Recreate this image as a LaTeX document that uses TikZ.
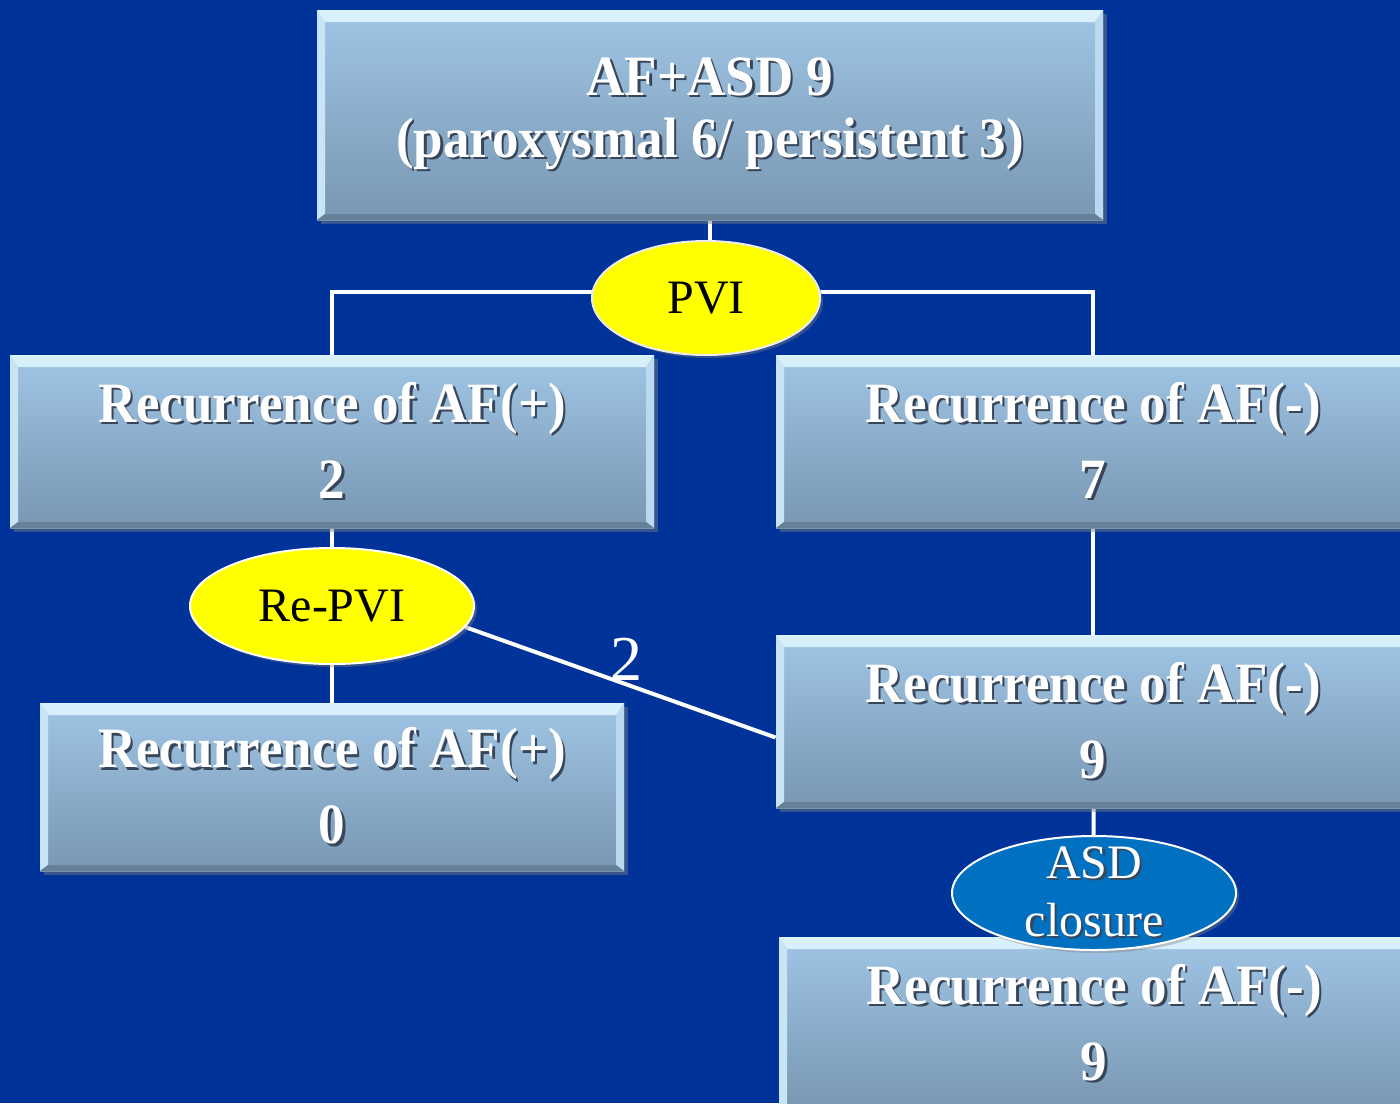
\documentclass[tikz,border=0pt]{standalone}
\usepackage{fontspec}
\setmainfont{Liberation Serif}
\newfontfamily\narrowfont[FakeStretch=0.93]{Liberation Serif}
\usetikzlibrary{positioning}
\usetikzlibrary{shapes.geometric}
\usetikzlibrary{shadows}
\definecolor{slidebg}{RGB}{0,51,153}
\definecolor{boxtop}{RGB}{160,197,229}
\definecolor{boxbottom}{RGB}{120,151,178}
\definecolor{boxbevel}{RGB}{218,242,252}
\definecolor{txtshadow}{RGB}{55,70,90}
\definecolor{asdblue}{RGB}{0,112,192}
\definecolor{pviyellow}{RGB}{255,255,0}
\newcommand{\shadowed}[1]{\leavevmode\rlap{\kern1.2pt\raisebox{-1.2pt}{\textcolor{txtshadow}{#1}}}#1}
\pgfdeclarelayer{backdrop}
\pgfdeclarelayer{links}
\pgfsetlayers{backdrop,links,main}

\begin{document}
\begin{tikzpicture}[
        x=0.5pt, y=-0.5pt,
        line width=1.5pt,
        result/.style={rectangle, inner sep=0pt, minimum height=86.5pt,
          top color=boxtop, bottom color=boxbottom, text=white, align=center,
          font=\narrowfont\bfseries\fontsize{28.5}{38}\selectfont,
          drop shadow={shadow xshift=2pt, shadow yshift=-2pt, opacity=0.45},
          path picture={
            \shade[top color=boxbevel, bottom color=boxtop]
              (path picture bounding box.north west) -- (path picture bounding box.north east)
              -- ([shift={(-4pt,-6pt)}]path picture bounding box.north east)
              -- ([shift={(4pt,-6pt)}]path picture bounding box.north west) -- cycle;
            \fill[boxbevel!70!boxtop]
              (path picture bounding box.north west) -- ([shift={(4pt,-6pt)}]path picture bounding box.north west)
              -- ([shift={(4pt,3pt)}]path picture bounding box.south west) -- (path picture bounding box.south west) -- cycle;
            \fill[boxbevel!45!boxtop]
              (path picture bounding box.north east) -- ([shift={(-4pt,-6pt)}]path picture bounding box.north east)
              -- ([shift={(-4pt,3pt)}]path picture bounding box.south east) -- (path picture bounding box.south east) -- cycle;
            \fill[boxbottom!85!black]
              (path picture bounding box.south west) -- ([shift={(4pt,3pt)}]path picture bounding box.south west)
              -- ([shift={(-4pt,3pt)}]path picture bounding box.south east) -- (path picture bounding box.south east) -- cycle;
          }},
        treat/.style={ellipse, draw=white!85!gray, line width=1pt, fill=pviyellow,
          inner sep=0pt, align=center, font=\fontsize{24}{29}\selectfont,
          drop shadow={shadow xshift=1.5pt, shadow yshift=-1.5pt, opacity=0.4}},
        link/.style={draw=white, line width=2pt}
      ]
  \useasboundingbox (0,0) rectangle (1400,1103);
  \begin{pgfonlayer}{backdrop}
    \fill[slidebg] (0,0) rectangle (1400,1103);
  \end{pgfonlayer}

  \node[result, minimum width=393pt, minimum height=105pt,
    font=\narrowfont\bfseries\fontsize{28.5}{31}\selectfont] (all) at (710,115)
    {\shadowed{AF+ASD 9}\\\shadowed{(paroxysmal 6/ persistent 3)}};
  \node[result, minimum width=322pt] (pvipos) at (332,441.5)
    {\shadowed{Recurrence of AF(+)}\\\shadowed{2}};
  \node[result, minimum width=317pt] (pvineg) at (1093,441.5)
    {\shadowed{Recurrence of AF(-)}\\\shadowed{7}};
  \node[result, minimum width=292pt, minimum height=84pt] (repvipos) at (332,787)
    {\shadowed{Recurrence of AF(+)}\\\shadowed{0}};
  \node[result, minimum width=317pt] (repvineg) at (1093,721.5)
    {\shadowed{Recurrence of AF(-)}\\\shadowed{9}};
  \node[result, minimum width=315pt] (closed) at (1094,1023.5)
    {\shadowed{Recurrence of AF(-)}\\\shadowed{9}};

  \node[treat, minimum width=114pt, minimum height=57pt] (pvi) at (706,298) {PVI};
  \node[treat, draw=white, minimum width=142pt, minimum height=58pt] (repvi) at (332,606) {Re-PVI};
  \node[treat, draw=white, fill=asdblue, text=white, inner ysep=-5pt,
    minimum width=142pt, minimum height=57pt] (asd) at (1094,893)
    {\shadowed{ASD}\\\shadowed{closure}};

  \begin{pgfonlayer}{links}
    \coordinate (split) at (706,292);
    \draw[link] (all) -- (all |- pvi);
    \draw[link] (pvipos.north) |- (split) -| (pvineg.north);
    \draw[link] (pvipos) -- (repvipos);
    \draw[link] (repvi.-9) -- node[pos=0.52, above, inner sep=1pt, text=white,
      font=\fontsize{32}{36}\selectfont] (twice) {2} ([yshift=-8pt]repvineg.west);
    \draw[link] (pvineg) -- (repvineg);
    \draw[link] (repvineg) -- (asd);
  \end{pgfonlayer}
\end{tikzpicture}
\end{document}
